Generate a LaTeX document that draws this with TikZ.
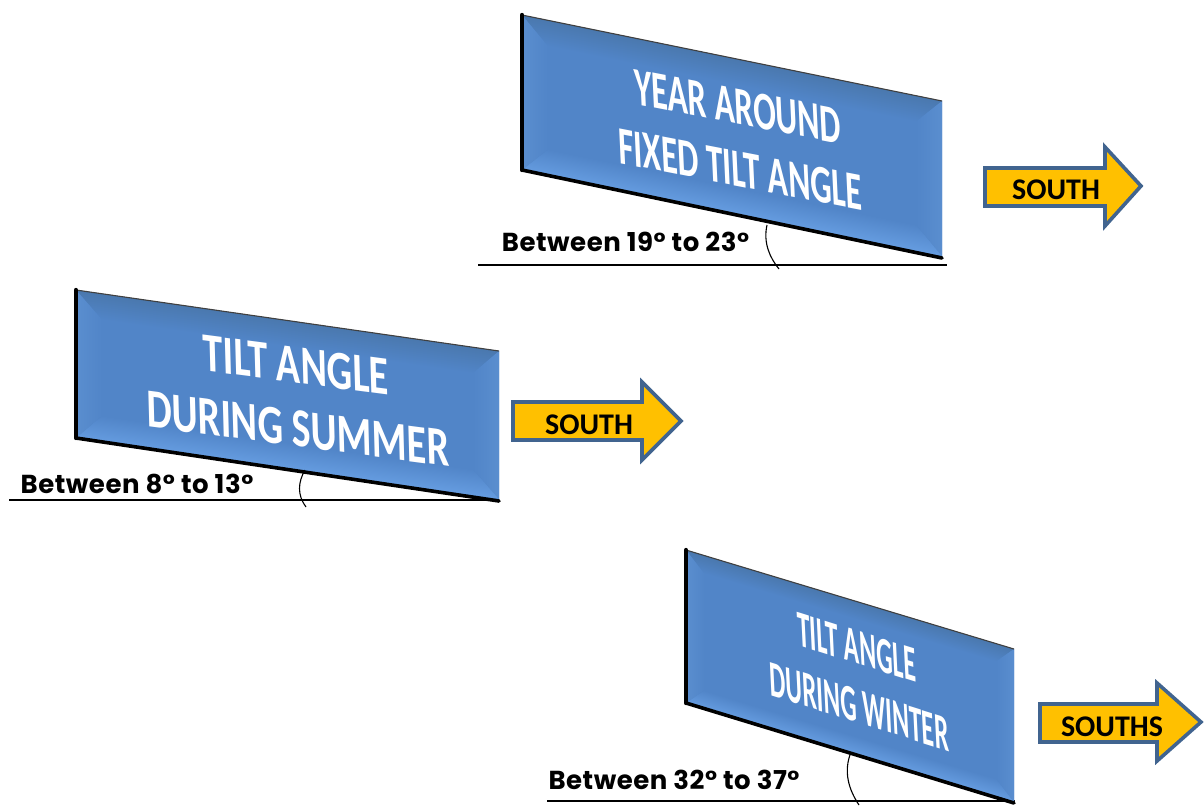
\documentclass[tikz,border=0pt]{standalone}
\usepackage{fontspec}
\setmainfont{Carlito}
\newfontfamily\gothfont{Poppins}[UprightFont=*-Bold,LetterSpace=2]
\usetikzlibrary{calc}
\definecolor{pbase}{HTML}{5185C8}
\definecolor{pdark}{HTML}{4A78AE}
\definecolor{plight}{HTML}{659CE0}
\definecolor{pside}{HTML}{5A8ECF}
\definecolor{arrowfill}{HTML}{FFC000}
\definecolor{arrowline}{HTML}{41648F}
\tikzset{
  x=1pt,y=-1pt,
  groundline/.style={draw=black,line width=1.4pt},
  anglearc/.style={draw=black,line width=1.1pt},
  edgeleft/.style={draw=black,line width=4.4pt,line cap=round},
  edgeblack/.style={draw=black,line width=3.6pt,line cap=round},
  edgethin/.style={draw=black!75,line width=1.1pt},
  paneltext/.style={font=\fontsize{50}{58}\selectfont\bfseries,text=white,align=center,inner sep=0pt,transform shape},
  southarrow/.style={draw=arrowline,line width=3.6pt,fill=arrowfill,miter limit=10},
  southtext/.style={font=\fontsize{30}{30}\selectfont\bfseries,text=black,inner sep=0pt},
  anglelabel/.style={font=\fontsize{26}{26}\selectfont\gothfont,text=black,inner sep=0pt}
}
% prefix, ax, ay, bx, by, cy, dy, inset
\newcommand{\bevelpanel}[8]{
  \coordinate (#1a) at (#2,#3);
  \coordinate (#1b) at (#4,#5);
  \coordinate (#1c) at (#4,#6);
  \coordinate (#1d) at (#2,#7);
  \pgfmathsetmacro{\pw}{#4-#2}
  \pgfmathsetmacro{\ph}{#7-#3}
  \pgfmathsetmacro{\ps}{(#5-#3)/(#4-#2)}
  \fill[pbase] (#1a)--(#1b)--(#1c)--(#1d)--cycle;
  \begin{scope}[transform canvas={cm={1,-\ps,0,1,(#1a)}}]
    \shade[top color=pdark,bottom color=pbase] (0,0)--(\pw,0)--(\pw-#8,#8)--(#8,#8)--cycle;
    \shade[top color=pbase,bottom color=plight] (0,\ph)--(\pw,\ph)--(\pw-#8,\ph-#8)--(#8,\ph-#8)--cycle;
    \shade[left color=pside,right color=pbase] (0,0)--(#8,#8)--(#8,\ph-#8)--(0,\ph)--cycle;
    \shade[left color=pbase,right color=pside] (\pw,0)--(\pw-#8,#8)--(\pw-#8,\ph-#8)--(\pw,\ph)--cycle;
  \end{scope}
  \draw[edgethin] (#1a)--(#1b);
  \draw[edgeblack] (#1d)--(#1c);
  \draw[edgeleft] (#1a)--(#1d);
}
% prefix, tail left, tail top, tail bottom, head base x, head top, head bottom, tip x, tip y
\newcommand{\southarrowshape}[9]{
  \draw[southarrow] (#2,#3)--(#5,#3)--(#5,#6)--(#8,#9)--(#5,#7)--(#5,#4)--(#2,#4)--cycle;
  \coordinate (#1) at (#2,#9);
}
\begin{document}
\begin{tikzpicture}
\useasboundingbox (0,0) rectangle (1204,806);

% Panel 1
\draw[groundline] (478,265) coordinate (g1l) -- (947,265) coordinate (g1r);
\bevelpanel{pa}{522}{15}{942}{101}{258}{170}{26}
\draw[anglearc] (767,225) coordinate (c1s) .. controls (763,243) and (770,258) .. (779,269) coordinate (c1e);
\node[paneltext,cm={0.67,-0.13,-0.05,1.08,(739,138)}] (pat) {YEAR AROUND\\FIXED TILT ANGLE};
\node[anglelabel] (pal) at (625.5,242) {Between 19° to 23°};
\southarrowshape{aa}{985}{168}{206}{1105}{147}{226}{1141}{186}
\node[southtext] (aat) at (1056,190) {SOUTH};

% Panel 2
\draw[groundline] (9,500) coordinate (g2l) -- (499,500) coordinate (g2r);
\bevelpanel{pb}{76}{290}{499}{351}{501}{438}{26}
\draw[anglearc] (305,470) coordinate (c2s) .. controls (298,482) and (297,495) .. (306,507) coordinate (c2e);
\node[paneltext,cm={0.8,-0.105,-0.03,1.1,(297,397)}] (pbt) {TILT ANGLE\\DURING SUMMER};
\node[anglelabel] (pbl) at (137,484) {Between 8° to 13°};
\southarrowshape{ab}{513}{402}{440}{642}{382}{460}{681}{421}
\node[southtext] (abt) at (589,425) {SOUTH};

% Panel 3
\draw[groundline] (547,801) coordinate (g3l) -- (1015,801) coordinate (g3r);
\bevelpanel{pc}{686}{550}{1014}{649}{803}{703}{18}
\draw[anglearc] (851,752) coordinate (c3s) .. controls (843,772) and (849,790) .. (859,805) coordinate (c3e);
\node[paneltext,cm={0.51,-0.16,-0.05,1.03,(858,677)}] (pct) {TILT ANGLE\\DURING WINTER};
\node[anglelabel] (pcl) at (674,780) {Between 32° to 37°};
\southarrowshape{ac}{1040}{704}{742}{1157}{683}{761}{1201}{722}
\node[southtext] (act) at (1112,727) {SOUTHS};
\end{tikzpicture}
\end{document}
